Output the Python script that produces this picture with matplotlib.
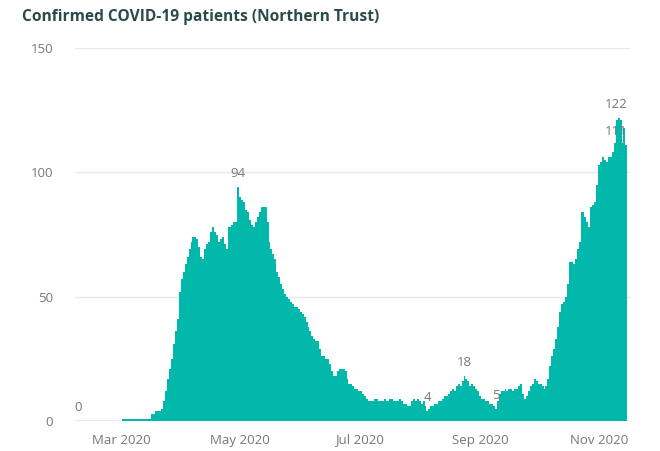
import datetime as dt

import matplotlib.dates as mdates
import matplotlib.pyplot as plt
import numpy as np

# daily confirmed patients, 8 Feb 2020 .. 15 Nov 2020
start_date = dt.date(2020, 2, 8)
feb = [0] * 22
mar = [0, 1, 1, 1, 1, 1, 1, 1, 1, 1, 1, 1, 1, 1, 1, 1, 3, 3, 4, 4, 4, 5,
       8, 12, 17, 21, 25, 31, 36, 41, 52]
apr = [57, 60, 63, 66, 69, 72, 74, 74, 73, 70, 66, 65, 69, 71, 72, 76, 78,
       76, 75, 72, 73, 74, 71, 69, 78, 78, 79, 80, 80, 94]
may = [90, 89, 88, 85, 84, 81, 79, 78, 80, 82, 84, 86, 86, 86, 80, 72, 69,
       67, 65, 60, 58, 55, 53, 51, 50, 49, 48, 47, 46, 46, 45]
jun = [44, 43, 42, 40, 38, 36, 34, 33, 32, 32, 29, 26, 26, 25, 25, 23, 20,
       18, 18, 20, 21, 21, 21, 20, 17, 15, 15, 14, 13, 13]
jul = [12, 12, 11, 10, 9, 8, 8, 8, 9, 9, 8, 8, 8, 9, 8, 8, 9, 9, 8, 8, 8,
       9, 8, 7, 7, 6, 6, 8, 9, 8, 9]
aug = [8, 7, 8, 6, 4, 5, 6, 6, 7, 7, 8, 8, 9, 10, 10, 11, 12, 13, 12, 14,
       15, 14, 16, 18, 17, 16, 14, 15, 14, 13, 12]
sep = [10, 9, 9, 8, 8, 7, 7, 6, 5, 8, 11, 12, 12, 13, 12, 13, 13, 12, 13,
       13, 14, 15, 11, 9, 10, 12, 14, 15, 17, 16]
oct_ = [15, 15, 14, 13, 14, 17, 22, 26, 29, 33, 38, 44, 47, 48, 50, 55, 64,
        64, 63, 65, 69, 72, 84, 84, 82, 80, 78, 86, 87, 88, 95]
nov = [103, 104, 106, 105, 104, 106, 106, 108, 112, 121, 122, 121, 112,
       118, 111]

values = feb + mar + apr + may + jun + jul + aug + sep + oct_ + nov
dates = [start_date + dt.timedelta(days=i) for i in range(len(values))]

# points that carry a data label
label_dates = [dt.date(2020, 2, 8), dt.date(2020, 4, 30), dt.date(2020, 8, 5),
               dt.date(2020, 8, 24), dt.date(2020, 9, 9),
               dt.date(2020, 11, 11), dt.date(2020, 11, 15)]

teal = "#01B8AA"
grey = "#777777"

fig = plt.figure(figsize=(6.6, 4.51), dpi=100)
ax = fig.add_axes([0.114, 0.0665, 0.841, 0.827])

ax.bar(dates, values, width=1.0, color=teal, linewidth=0, zorder=3)

ax.set_ylim(0, 150)
ax.set_yticks([0, 50, 100, 150])
ax.set_xlim(mdates.date2num(dt.date(2020, 3, 1)) - 23.6,
            mdates.date2num(dt.date(2020, 3, 1)) + 261)
ax.xaxis.set_major_locator(mdates.MonthLocator(bymonth=[3, 5, 7, 9, 11]))
ax.xaxis.set_major_formatter(mdates.DateFormatter("%b %Y"))

ax.grid(axis="y", color="#e9e9e9", linewidth=1, zorder=0)
ax.axhline(0, color="#e9e9e9", linewidth=1.5, zorder=1)
for side in ["top", "right", "left", "bottom"]:
    ax.spines[side].set_visible(False)
ax.tick_params(axis="both", length=0, colors=grey, labelsize=9.5)
ax.tick_params(axis="x", pad=9)
ax.tick_params(axis="y", pad=16)
for lab in ax.get_xticklabels() + ax.get_yticklabels():
    lab.set_fontfamily("Open Sans")

for d in label_dates:
    v = values[(d - start_date).days]
    ha = "center"
    x = d
    if d >= dt.date(2020, 11, 10):
        ha = "right"
        x = mdates.date2num(dates[-1]) + 0.7
    ax.annotate(str(v), (x, v), xytext=(0, 5), textcoords="offset points",
                ha=ha, va="bottom", color=grey, fontsize=9.5,
                fontfamily="Open Sans", zorder=4)

fig.text(0.033, 0.962, "Confirmed COVID-19 patients (Northern Trust)",
         fontsize=11.2, fontweight="bold", color="#2b4a4c",
         fontfamily="Open Sans", va="center", ha="left")

fig.savefig("out.png", dpi=100)
